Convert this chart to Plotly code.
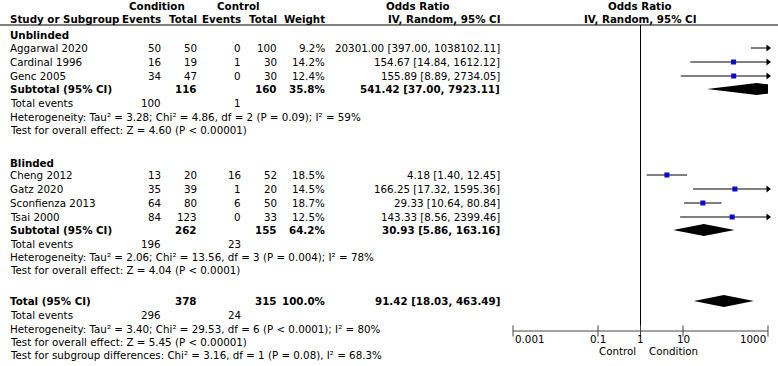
import plotly.graph_objects as go
import math

W, H = 778, 366

# ---------------- data ----------------
u_study = ["Aggarwal 2020", "Cardinal 1996", "Genc 2005"]
u_cond_ev = [50, 16, 34]
u_cond_tot = [50, 19, 47]
u_ctrl_ev = [0, 1, 0]
u_ctrl_tot = [100, 30, 30]
u_weight = [9.2, 14.2, 12.4]
u_or = [20301.00, 154.67, 155.89]
u_lo = [397.00, 14.84, 8.89]
u_hi = [1038102.11, 1612.12, 2734.05]

b_study = ["Cheng 2012", "Gatz 2020", "Sconfienza 2013", "Tsai 2000"]
b_cond_ev = [13, 35, 64, 84]
b_cond_tot = [20, 39, 80, 123]
b_ctrl_ev = [16, 1, 6, 0]
b_ctrl_tot = [52, 20, 50, 33]
b_weight = [18.5, 14.5, 18.7, 12.5]
b_or = [4.18, 166.25, 29.33, 143.33]
b_lo = [1.40, 17.32, 10.64, 8.56]
b_hi = [12.45, 1595.36, 80.84, 2399.46]

group_names = ["Unblinded", "Blinded"]
sub_cond_tot = [116, 262]
sub_ctrl_tot = [160, 155]
sub_weight = [35.8, 64.2]
sub_or = [541.42, 30.93]
sub_lo = [37.00, 5.86]
sub_hi = [7923.11, 163.16]
sub_cond_ev = [100, 196]
sub_ctrl_ev = [1, 23]
sub_het = ["Heterogeneity: Tau² = 3.28; Chi² = 4.86, df = 2 (P = 0.09); I² = 59%",
           "Heterogeneity: Tau² = 2.06; Chi² = 13.56, df = 3 (P = 0.004); I² = 78%"]
sub_test = ["Test for overall effect: Z = 4.60 (P < 0.00001)",
            "Test for overall effect: Z = 4.04 (P < 0.0001)"]

tot_cond_tot = 378
tot_ctrl_tot = 315
tot_weight = 100.0
tot_or = 91.42
tot_lo = 18.03
tot_hi = 463.49
tot_cond_ev = 296
tot_ctrl_ev = 24
tot_het = "Heterogeneity: Tau² = 3.40; Chi² = 29.53, df = 6 (P < 0.0001); I² = 80%"
tot_test = "Test for overall effect: Z = 5.45 (P < 0.00001)"
tot_sub = "Test for subgroup differences: Chi² = 3.16, df = 1 (P = 0.08), I² = 68.3%"

tick_vals = [0.001, 0.1, 1, 10, 1000]
tick_text = ["0.001", "0.1", "1", "10", "1000"]
axis_left_label = "Control"
axis_right_label = "Condition"

# ---------------- layout positions (px) ----------------
FONT = "DejaVu Sans"
FS = 10.3
X_NAME = 8
X_CEV, X_CTOT, X_KEV, X_KTOT, X_W, X_OR = 163, 199, 243, 279, 327, 502
X_PLOT0, X_PLOT1 = 513, 768

Y_H1, Y_H2, Y_LINE = 6, 19, 25
groups_y = [
    dict(label=35, studies=[48, 62, 76], sub=89, ev=103, het=117, test=130),
    dict(label=163, studies=[175, 189, 203, 217], sub=230, ev=244, het=257, test=270),
]
Y_TOT, Y_TEV, Y_THET, Y_TTEST, Y_TSUB = 301, 315, 329, 342, 355
Y_AXIS, Y_TICKLAB, Y_AXLAB = 331, 339, 351
DH = 6  # diamond half height
AXC = "#444444"

fig = go.Figure()
ann = []


def txt(xpx, y, s, anchor="right", bold=False):
    ann.append(dict(x=xpx / W, xref="paper", y=y, yref="y", text=("<b>%s</b>" % s) if bold else s,
                    showarrow=False, xanchor=anchor, yanchor="middle",
                    font=dict(family=FONT, size=FS, color="black")))


def fmt_or(o, l, h):
    return "%.2f [%.2f, %.2f]" % (o, l, h)


# headers
txt(157, Y_H1, "Condition", "center", True)
txt(238, Y_H1, "Control", "center", True)
txt(418, Y_H1, "Odds Ratio", "center", True)
txt(640, Y_H1, "Odds Ratio", "center", True)
txt(X_NAME, Y_H2, "Study or Subgroup", "left", True)
txt(X_CEV, Y_H2, "Events", bold=True)
txt(X_CTOT, Y_H2, "Total", bold=True)
txt(X_KEV, Y_H2, "Events", bold=True)
txt(X_KTOT, Y_H2, "Total", bold=True)
txt(X_W, Y_H2, "Weight", bold=True)
txt(X_OR, Y_H2, "IV, Random, 95% CI", bold=True)
txt(640, Y_H2, "IV, Random, 95% CI", "center", True)

groups = [
    (u_study, u_cond_ev, u_cond_tot, u_ctrl_ev, u_ctrl_tot, u_weight, u_or, u_lo, u_hi),
    (b_study, b_cond_ev, b_cond_tot, b_ctrl_ev, b_ctrl_tot, b_weight, b_or, b_lo, b_hi),
]

ci_x, ci_y, sq_x, sq_y, ar_x, ar_y = [], [], [], [], [], []
xmin, xmax = tick_vals[0], tick_vals[-1]

for gi, g in enumerate(groups):
    st, cev, ctot, kev, ktot, wt, orr, lo, hi = g
    gy = groups_y[gi]
    txt(X_NAME, gy["label"], group_names[gi], "left", True)
    for i in range(len(st)):
        y = gy["studies"][i]
        txt(X_NAME, y, st[i], "left")
        txt(X_CEV, y, str(cev[i]))
        txt(X_CTOT, y, str(ctot[i]))
        txt(X_KEV, y, str(kev[i]))
        txt(X_KTOT, y, str(ktot[i]))
        txt(X_W, y, "%.1f%%" % wt[i])
        txt(X_OR, y, fmt_or(orr[i], lo[i], hi[i]))
        ci_x += [lo[i], hi[i], None]
        ci_y += [y, y, None]
        sq_x.append(orr[i])
        sq_y.append(y)
        if hi[i] > xmax:
            ar_x.append(xmax)
            ar_y.append(y)
    y = gy["sub"]
    txt(X_NAME, y, "Subtotal (95% CI)", "left", True)
    txt(X_CTOT, y, str(sub_cond_tot[gi]), bold=True)
    txt(X_KTOT, y, str(sub_ctrl_tot[gi]), bold=True)
    txt(X_W, y, "%.1f%%" % sub_weight[gi], bold=True)
    txt(X_OR, y, fmt_or(sub_or[gi], sub_lo[gi], sub_hi[gi]), bold=True)
    fig.add_trace(go.Scatter(x=[sub_lo[gi], sub_or[gi], sub_hi[gi], sub_or[gi], sub_lo[gi]],
                             y=[y, y - DH, y, y + DH, y], mode="lines", fill="toself",
                             fillcolor="black", line=dict(width=0, color="black"),
                             hoverinfo="skip", showlegend=False))
    txt(X_NAME, gy["ev"], "Total events", "left")
    txt(X_CEV, gy["ev"], str(sub_cond_ev[gi]))
    txt(X_KEV, gy["ev"], str(sub_ctrl_ev[gi]))
    txt(X_NAME, gy["het"], sub_het[gi], "left")
    txt(X_NAME, gy["test"], sub_test[gi], "left")

# overall
txt(X_NAME, Y_TOT, "Total (95% CI)", "left", True)
txt(X_CTOT, Y_TOT, str(tot_cond_tot), bold=True)
txt(X_KTOT, Y_TOT, str(tot_ctrl_tot), bold=True)
txt(X_W, Y_TOT, "%.1f%%" % tot_weight, bold=True)
txt(X_OR, Y_TOT, fmt_or(tot_or, tot_lo, tot_hi), bold=True)
fig.add_trace(go.Scatter(x=[tot_lo, tot_or, tot_hi, tot_or, tot_lo],
                         y=[Y_TOT, Y_TOT - DH, Y_TOT, Y_TOT + DH, Y_TOT], mode="lines", fill="toself",
                         fillcolor="black", line=dict(width=0, color="black"),
                         hoverinfo="skip", showlegend=False))
txt(X_NAME, Y_TEV, "Total events", "left")
txt(X_CEV, Y_TEV, str(tot_cond_ev))
txt(X_KEV, Y_TEV, str(tot_ctrl_ev))
txt(X_NAME, Y_THET, tot_het, "left")
txt(X_NAME, Y_TTEST, tot_test, "left")
txt(X_NAME, Y_TSUB, tot_sub, "left")

# CI lines, squares, arrows
fig.add_trace(go.Scatter(x=ci_x, y=ci_y, mode="lines", line=dict(color="black", width=1),
                         hoverinfo="skip", showlegend=False))
fig.add_trace(go.Scatter(x=sq_x, y=sq_y, mode="markers",
                         marker=dict(symbol="square", size=5, color="#0a0ad2", line=dict(width=0)),
                         hoverinfo="skip", showlegend=False))
fig.add_trace(go.Scatter(x=ar_x, y=ar_y, mode="markers", cliponaxis=False,
                         marker=dict(symbol="triangle-right", size=6, color="black", line=dict(width=0)),
                         hoverinfo="skip", showlegend=False))

# null line
fig.add_trace(go.Scatter(x=[1, 1], y=[Y_LINE, Y_AXIS], mode="lines", line=dict(color="black", width=1),
                         hoverinfo="skip", showlegend=False))
# axis line + ticks
fig.add_trace(go.Scatter(x=[xmin, xmax], y=[Y_AXIS, Y_AXIS], mode="lines", line=dict(color=AXC, width=1),
                         hoverinfo="skip", showlegend=False, cliponaxis=False))
fig.add_trace(go.Scatter(x=tick_vals, y=[Y_AXIS] * len(tick_vals), mode="markers", cliponaxis=False,
                         marker=dict(symbol="line-ns-open", size=8, color=AXC, line=dict(width=1, color=AXC)),
                         hoverinfo="skip", showlegend=False))
for i, (tv, tt) in enumerate(zip(tick_vals, tick_text)):
    anc = "left" if i == 0 else ("right" if i == len(tick_vals) - 1 else "center")
    ann.append(dict(x=math.log10(tv), xref="x", y=Y_TICKLAB, yref="y", text=tt, showarrow=False,
                    xanchor=anc, yanchor="middle", font=dict(family=FONT, size=FS, color="black")))
ann.append(dict(x=math.log10(1), xref="x", xshift=-3, y=Y_AXLAB, yref="y", text=axis_left_label,
                showarrow=False, xanchor="right", yanchor="middle",
                font=dict(family=FONT, size=FS, color="black")))
ann.append(dict(x=math.log10(1), xref="x", xshift=6, y=Y_AXLAB, yref="y", text=axis_right_label,
                showarrow=False, xanchor="left", yanchor="middle",
                font=dict(family=FONT, size=FS, color="black")))

fig.update_layout(
    width=W, height=H, margin=dict(l=0, r=0, t=0, b=0),
    paper_bgcolor="white", plot_bgcolor="rgba(0,0,0,0)",
    showlegend=False, annotations=ann,
    shapes=[dict(type="line", xref="paper", x0=0, x1=1, yref="y", y0=Y_LINE, y1=Y_LINE,
                 line=dict(color="black", width=1))],
    xaxis=dict(type="log", range=[math.log10(xmin), math.log10(xmax)],
               domain=[X_PLOT0 / W, X_PLOT1 / W], visible=False, fixedrange=True),
    yaxis=dict(range=[H, 0], domain=[0, 1], visible=False, fixedrange=True),
)

fig.write_html("out.html", config={"displayModeBar": False},
               post_script="document.body.style.margin='0';document.body.style.overflow='hidden';")
